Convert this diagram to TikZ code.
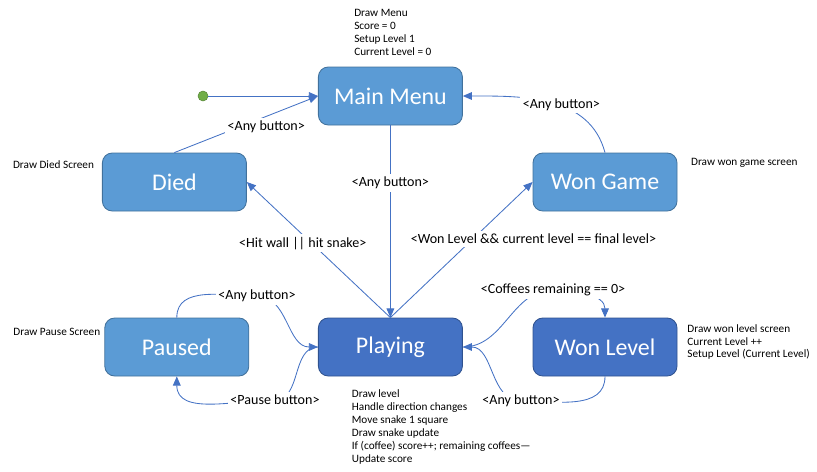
\documentclass[tikz,border=0pt]{standalone}
\usepackage{fontspec}
\setmainfont{Carlito}
\usetikzlibrary{arrows.meta}

\definecolor{boxlight}{HTML}{5B9BD5}
\definecolor{edgelight}{HTML}{41719C}
\definecolor{boxdark}{HTML}{4472C4}
\definecolor{edgedark}{HTML}{2F528F}
\definecolor{wire}{HTML}{4472C4}
\definecolor{startgreen}{HTML}{70AD47}

\begin{document}
\begin{tikzpicture}[
  state/.style={rounded corners=7pt, line width=0.6pt, minimum width=3.6cm, minimum height=1.45cm, text=white, font=\fontsize{17}{20}\selectfont},
  trig/.style={fill=white, inner sep=2pt, font=\fontsize{10}{12}\selectfont},
  note/.style={anchor=west, align=left, inner sep=0pt, font=\fontsize{8}{9.2}\selectfont},
  conn/.style={draw=wire, line width=0.6pt, -{Triangle[length=6.5pt,width=5.5pt]}}
]
\useasboundingbox (0,0) rectangle (20.425,-11.8);

% States
\node[state, fill=boxlight, draw=edgelight] (mainmenu) at (9.76, -2.4) {Main Menu};
\node[state, fill=boxlight, draw=edgelight] (died) at (4.36, -4.55) {Died};
\node[state, fill=boxlight, draw=edgelight] (wongame) at (15.125, -4.55) {Won Game};
\node[state, fill=boxlight, draw=edgelight] (paused) at (4.42, -8.675) {Paused};
\node[state, fill=boxdark, draw=edgedark] (playing) at (9.76, -8.675) {Playing};
\node[state, fill=boxdark, draw=edgedark] (wonlevel) at (15.125, -8.675) {Won Level};

% Start point
\node[circle, fill=startgreen, draw=startgreen!80!black, line width=0.4pt, minimum size=0.25cm, inner sep=0pt] (start) at (5.075, -2.4) {};

% What each state does
\node[note] (menunote) at (8.85, -0.82) {Draw Menu\\Score = 0\\Setup Level 1\\Current Level = 0};
\node[note] (diednote) at (0.32, -4.11) {Draw Died Screen};
\node[note] (pausenote) at (0.33, -8.3) {Draw Pause Screen};
\node[note] (gamenote) at (17.27, -4.07) {Draw won game screen};
\node[note] (levelnote) at (17.18, -8.55) {Draw won level screen\\Current Level ++\\Setup Level (Current Level)};
\node[note] (playnote) at (8.79, -10.67) {Draw level\\Handle direction changes\\Move snake 1 square\\Draw snake update\\If (coffee) score++; remaining coffees—\\Update score};

% Bend points for the curved transitions
\coordinate (pTop) at (6.425, -7.4);
\coordinate (pBot) at (6.875, -10.0);
\coordinate (cTop) at (13.825, -7.25);
\coordinate (cBot) at (13.025, -10.025);

% Transitions
\draw[conn] (start) -- (mainmenu);
\draw[conn] (died.north) -- node[trig, pos=0.64, yshift=-0.26cm] (lDied) {<Any button>} (mainmenu.west);
\draw[conn] (mainmenu.south) -- node[trig, pos=0.3] (lMenu) {<Any button>} (playing.north);
\draw[conn] (playing.north) -- node[trig, pos=0.61, yshift=-0.21cm] (lHit) {<Hit wall || hit snake>} (died.east);
\draw[conn] (playing.north) -- node[trig, pos=0.58, xshift=1.515cm] (lFinal) {<Won Level \&\& current level == final level>} (wongame.west);
\draw[conn] (wongame.north) to[out=105, in=0] node[trig, pos=0.5, xshift=0.27cm, yshift=-0.05cm] (lGame) {<Any button>} (mainmenu.east);

\draw[conn] (paused.north) to[out=90, in=180] (pTop) node[trig] (lResume) {<Any button>} to[out=0, in=180] (playing.west);
\draw[conn] (playing.west) to[out=180, in=0] (pBot) node[trig] (lPause) {<Pause button>} to[out=180, in=-90] (paused.south);
\draw[conn] (playing.east) to[out=0, in=180] (cTop) node[trig] (lCoffee) {<Coffees remaining == 0>} to[out=0, in=90] (wonlevel.north);
\draw[conn] (wonlevel.south) to[out=-90, in=0] (cBot) node[trig] (lLevel) {<Any button>} to[out=180, in=0] (playing.east);

\end{tikzpicture}
\end{document}
